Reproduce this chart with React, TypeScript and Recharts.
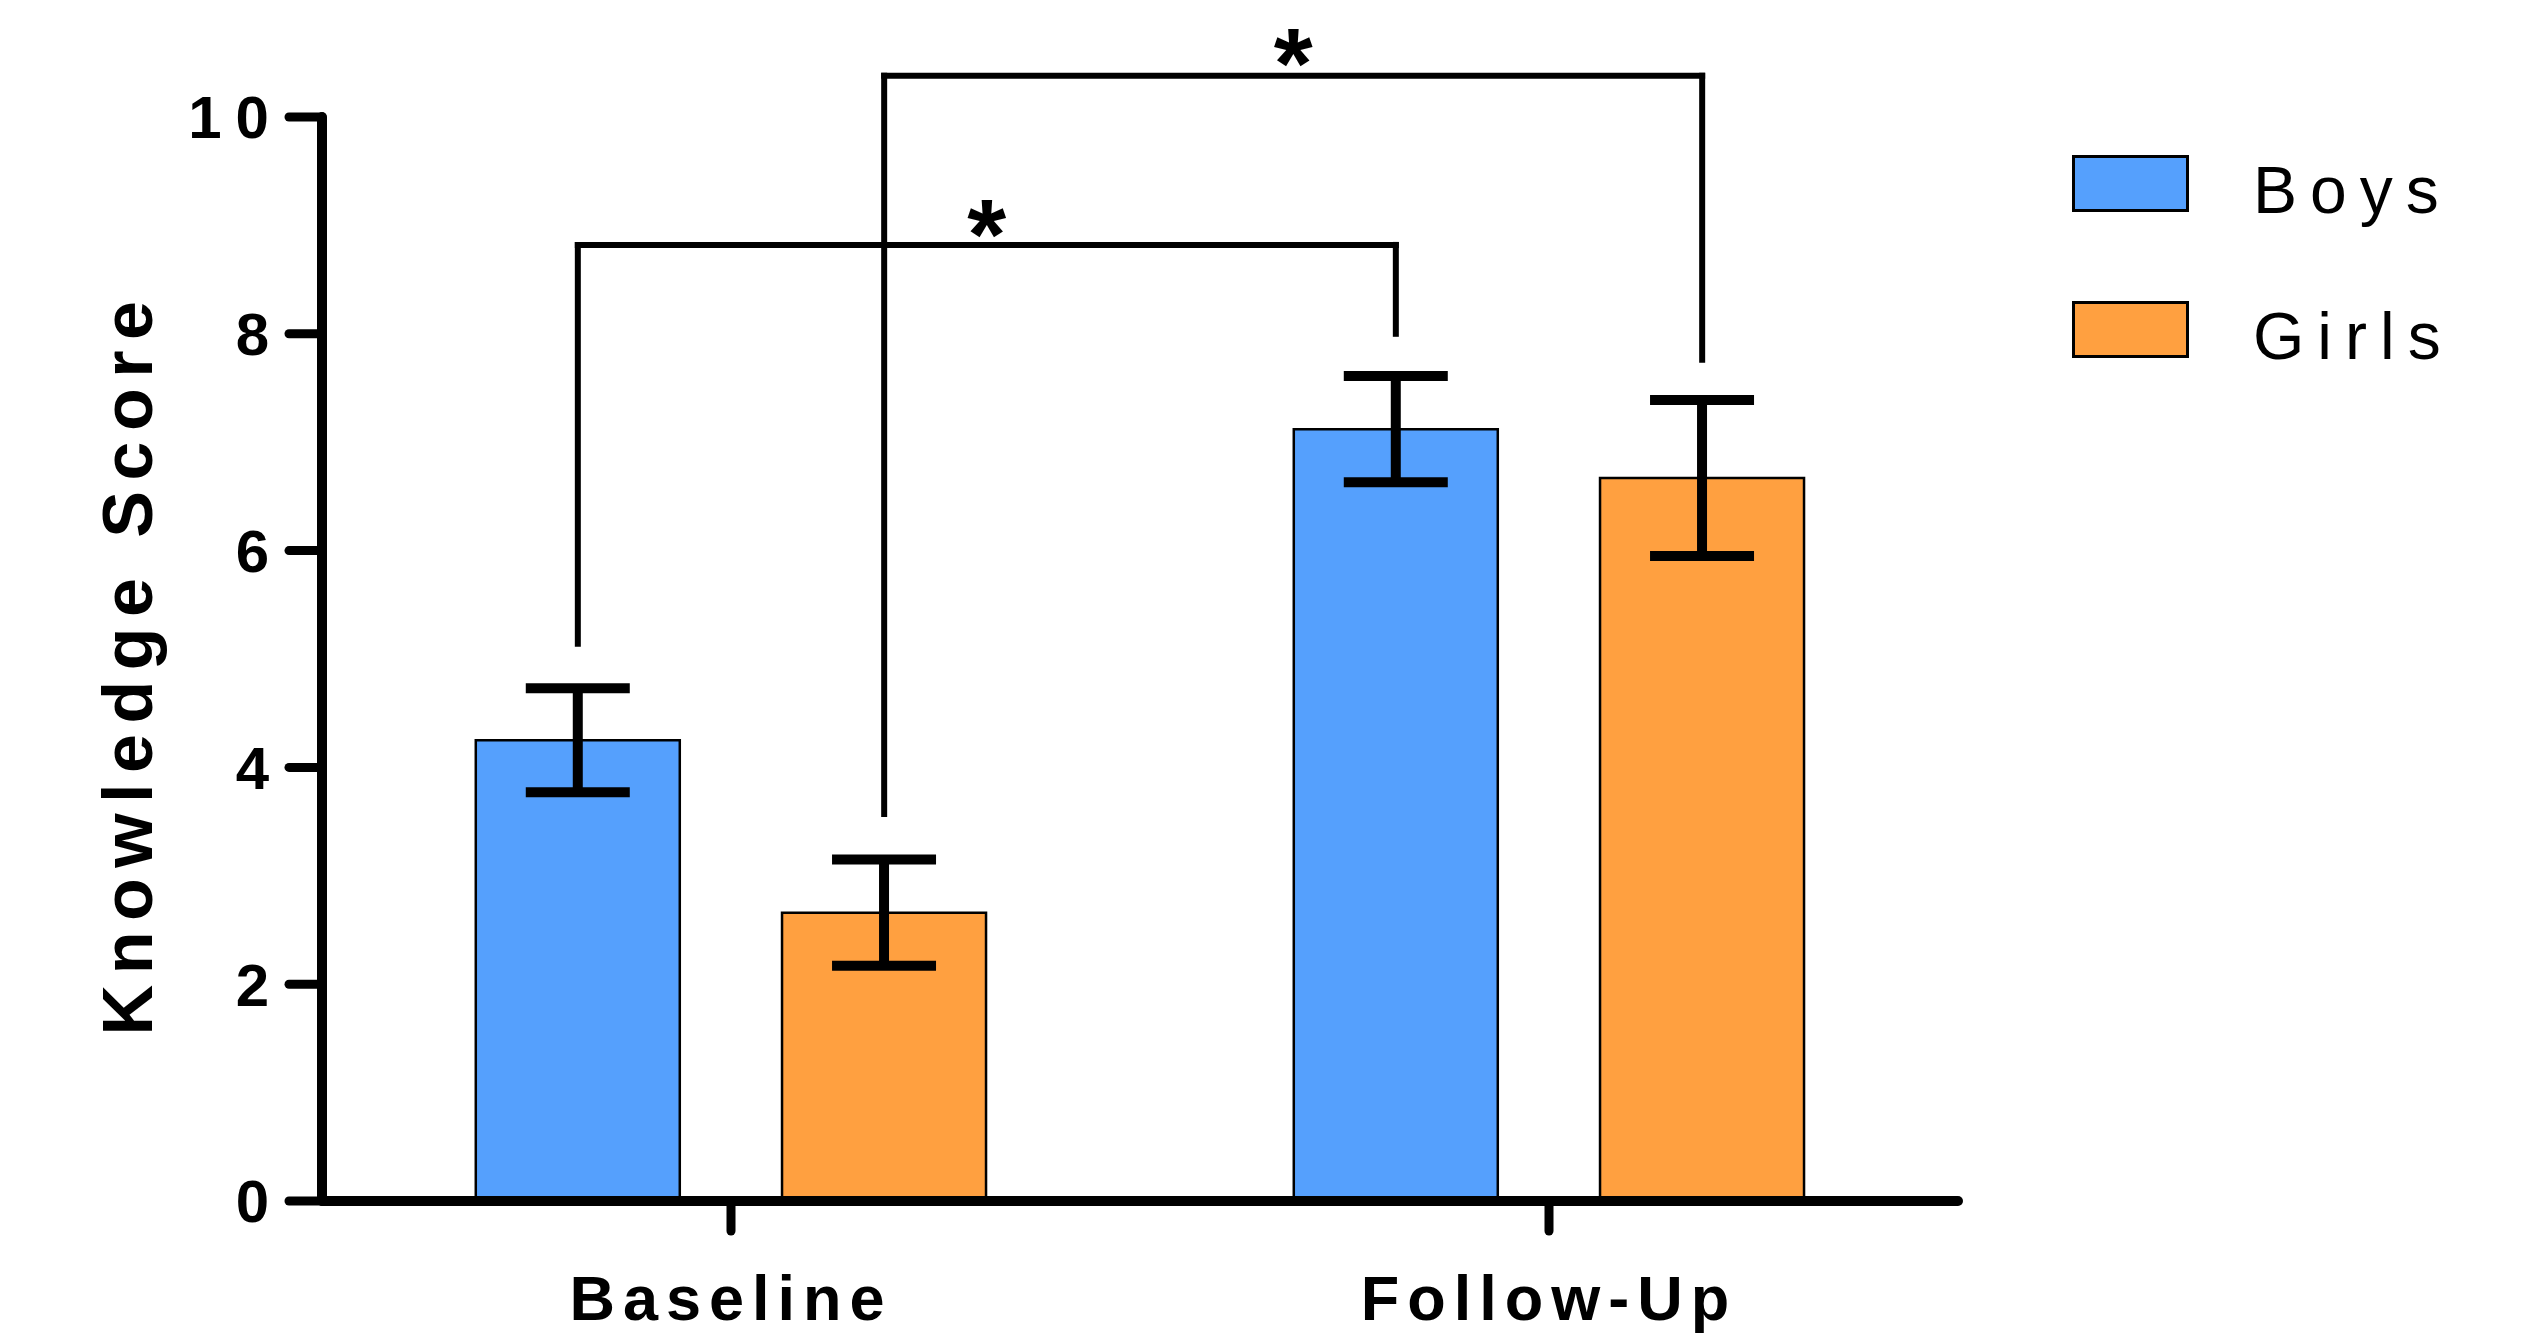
import { BarChart, Bar, XAxis, YAxis, ErrorBar, Legend, ReferenceLine, ReferenceDot } from 'recharts'

// Knowledge score by group, mean and SEM
const categories = ['Baseline', 'Follow-Up']
const boysMean = [4.25, 7.12]
const boysSem = [0.48, 0.49]
const girlsMean = [2.66, 6.67]
const girlsSem = [0.49, 0.72]
const yTicks = [0, 2, 4, 6, 8, 10]

// significance brackets: which bars (group, series) they join and at what heights
const brackets = [
	{ from: [0, 0], to: [1, 0], leftEnd: 5.14, rightEnd: 8.0, top: 8.82, star: 9.11 },
	{ from: [0, 1], to: [1, 1], leftEnd: 3.57, rightEnd: 7.76, top: 10.38, star: 10.69 },
]

const data = categories.map((category, i) => ({
	category,
	pos: i + 0.5,
	boys: boysMean[i],
	boysSem: boysSem[i],
	girls: girlsMean[i],
	girlsSem: girlsSem[i],
}))

const WIDTH = 2538
const HEIGHT = 1337
const FONT = '"Liberation Sans", Arial, sans-serif'
const BLUE = '#55a0fd'
const ORANGE = '#ffa040'

// bar layout as a fraction of one category band
const CAT_GAP = 0.188
const BAR_GAP = 0.125
const BAR = (1 - 2 * CAT_GAP - BAR_GAP) / 2

// centre of a bar on the hidden 0..2 position axis
const barCenter = (group: number, series: number) =>
	group + CAT_GAP + BAR * (series + 0.5) + BAR_GAP * series

const StarShape = (props: any) => (
	<text
		x={props.cx}
		y={props.cy + 56}
		textAnchor="middle"
		fontFamily={FONT}
		fontWeight={700}
		fontSize={100}
		fill="#000"
	>
		*
	</text>
)

const YTitle = (props: any) => {
	const vb = props.viewBox
	const x = vb.x - 70
	const y = vb.y + vb.height / 2 + 4
	return (
		<text
			x={x}
			y={y}
			transform={`rotate(-90 ${x} ${y})`}
			textAnchor="middle"
			fontFamily={FONT}
			fontWeight={700}
			fontSize={70}
			letterSpacing={10.5}
			fill="#000"
		>
			Knowledge Score
		</text>
	)
}

const renderLegend = (props: any) => (
	<div style={{ fontFamily: FONT }}>
		{props.payload.map((entry: any) => (
			<div key={entry.value} style={{ display: 'flex', alignItems: 'center', height: 146 }}>
				<div
					style={{
						width: 117,
						height: 57,
						boxSizing: 'border-box',
						border: '3px solid #000',
						background: entry.color,
					}}
				/>
				<span
					style={{
						position: 'relative',
						top: 7,
						marginLeft: 64,
						fontSize: 66,
						letterSpacing: 13,
						color: '#000',
					}}
				>
					{entry.value}
				</span>
			</div>
		))}
	</div>
)

export default function App() {
	return (
		<div style={{ position: 'absolute', left: 0, top: 0, width: WIDTH, height: HEIGHT, background: '#fff' }}>
			<BarChart
				width={WIDTH}
				height={HEIGHT}
				data={data}
				margin={{ top: 117, right: 580, bottom: 6, left: 222 }}
				barCategoryGap={`${CAT_GAP * 100}%`}
				barGap={`${BAR_GAP * 100}%`}
			>
				<XAxis
					dataKey="category"
					height={130}
					tickSize={30}
					tickMargin={44}
					axisLine={{ stroke: '#000', strokeWidth: 10, strokeLinecap: 'round' }}
					tickLine={{ stroke: '#000', strokeWidth: 9, strokeLinecap: 'round' }}
					tick={{ fontFamily: FONT, fontSize: 63, fontWeight: 700, fill: '#000', letterSpacing: 8 }}
				/>
				<XAxis xAxisId="pos" dataKey="pos" type="number" domain={[0, 2]} allowDataOverflow hide />
				<YAxis
					width={100}
					domain={[0, 10]}
					ticks={yTicks}
					tickSize={33}
					tickMargin={6}
					axisLine={{ stroke: '#000', strokeWidth: 10, strokeLinecap: 'round' }}
					tickLine={{ stroke: '#000', strokeWidth: 9, strokeLinecap: 'round' }}
					tick={{ fontFamily: FONT, fontSize: 60, fontWeight: 700, fill: '#000', letterSpacing: 14 }}
					label={<YTitle />}
				/>
				<Legend
					layout="vertical"
					align="center"
					verticalAlign="middle"
					wrapperStyle={{ left: 2072, top: 110, width: 460 }}
					content={renderLegend}
				/>
				<Bar dataKey="boys" name="Boys" fill={BLUE} stroke="#000" strokeWidth={2.5} isAnimationActive={false}>
					<ErrorBar dataKey="boysSem" direction="y" width={52} stroke="#000" strokeWidth={10} isAnimationActive={false} />
				</Bar>
				<Bar dataKey="girls" name="Girls" fill={ORANGE} stroke="#000" strokeWidth={2.5} isAnimationActive={false}>
					<ErrorBar dataKey="girlsSem" direction="y" width={52} stroke="#000" strokeWidth={10} isAnimationActive={false} />
				</Bar>
				{brackets.map((b, i) => {
					const x1 = barCenter(b.from[0], b.from[1])
					const x2 = barCenter(b.to[0], b.to[1])
					const segs = [
						[{ x: x1, y: b.leftEnd }, { x: x1, y: b.top }],
						[{ x: x1, y: b.top }, { x: x2, y: b.top }],
						[{ x: x2, y: b.top }, { x: x2, y: b.rightEnd }],
					]
					return segs.map((s, j) => (
						<ReferenceLine
							key={`br-${i}-${j}`}
							xAxisId="pos"
							segment={s}
							ifOverflow="visible"
							stroke="#000"
							strokeWidth={6}
							strokeLinecap="square"
						/>
					))
				})}
				{brackets.map((b, i) => (
					<ReferenceDot
						key={`star-${i}`}
						xAxisId="pos"
						x={(barCenter(b.from[0], b.from[1]) + barCenter(b.to[0], b.to[1])) / 2}
						y={b.star}
						r={0}
						ifOverflow="visible"
						shape={StarShape}
					/>
				))}
			</BarChart>
		</div>
	)
}
